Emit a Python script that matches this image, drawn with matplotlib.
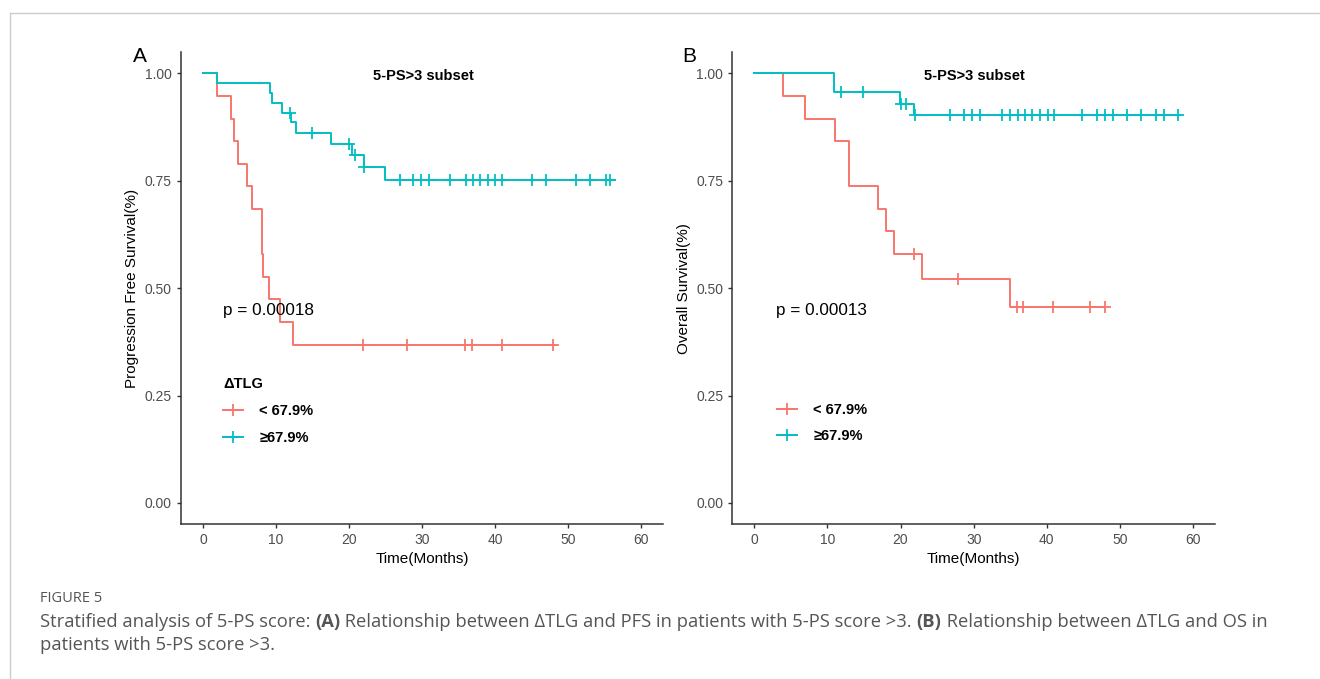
import numpy as np
import matplotlib
matplotlib.use("Agg")
import matplotlib.pyplot as plt
from matplotlib.lines import Line2D

plt.rcParams["font.family"] = ["Liberation Sans", "DejaVu Sans"]

RED = "#F8766D"
CYAN = "#00BFC4"

# Panel A: progression free survival
pfs_low_times = [2.0, 3.9, 4.3, 4.8, 6.1, 6.75, 8.1, 8.26, 9.1, 10.6, 12.3]
pfs_low_surv = [0.947, 0.895, 0.842, 0.789, 0.737, 0.684, 0.579, 0.526, 0.474, 0.421, 0.368]
pfs_low_end = 48.2
pfs_low_censor = [21.9, 27.9, 35.9, 36.8, 40.9, 47.9]

pfs_high_times = [2.0, 9.2, 9.5, 10.8, 12.05, 12.8, 17.6, 20.4, 22.0, 24.9]
pfs_high_surv = [0.977, 0.955, 0.932, 0.909, 0.886, 0.861, 0.836, 0.810, 0.782, 0.753]
pfs_high_end = 56.4
pfs_high_censor = [11.9, 15.0, 20.0, 20.8, 22.1, 27.0, 28.8, 29.9, 31.0, 33.9, 36.0, 37.0,
                   38.0, 39.0, 40.0, 41.0, 45.0, 47.0, 51.1, 53.0, 55.2, 55.8]

# Panel B: overall survival
os_low_times = [3.9, 6.9, 11.0, 12.9, 16.9, 18.0, 19.1, 23.0, 35.0]
os_low_surv = [0.947, 0.895, 0.842, 0.737, 0.684, 0.632, 0.579, 0.521, 0.456]
os_low_end = 48.0
os_low_censor = [21.9, 27.8, 35.9, 36.8, 40.9, 45.9, 47.9]

os_high_times = [10.9, 19.9, 21.9]
os_high_surv = [0.956, 0.930, 0.903]
os_high_end = 58.2
os_high_censor = [11.85, 14.9, 20.0, 20.8, 22.0, 26.8, 28.7, 29.8, 30.9, 33.9, 35.0, 36.0, 37.0,
                  38.0, 39.1, 40.1, 41.0, 44.8, 46.9, 48.0, 49.0, 50.9, 52.9, 54.9, 56.0, 57.9]

group_labels = ["< 67.9%", "\u226567.9%"]
legend_title = "\u0394TLG"
x_ticks = [0, 10, 20, 30, 40, 50, 60]
y_ticks = [0.0, 0.25, 0.5, 0.75, 1.0]


def draw_km(ax, times, surv, end, censor, color):
    t = np.concatenate([[0.0], times, [end]])
    s = np.concatenate([[1.0], surv, [surv[-1]]])
    ax.step(t, s, where="post", color=color, lw=1.4, zorder=3)
    idx = np.searchsorted(times, censor, side="right")
    cy = np.concatenate([[1.0], surv])[idx]
    ax.plot(censor, cy, ls="none", marker="+", ms=8, mew=1.3, color=color, zorder=4)


def style_axes(ax, ylabel):
    ax.set_xlim(-3, 63)
    ax.set_ylim(-0.05, 1.05)
    ax.set_xticks(x_ticks)
    ax.set_yticks(y_ticks)
    ax.set_yticklabels([f"{v:.2f}" for v in y_ticks])
    for side in ("top", "right"):
        ax.spines[side].set_visible(False)
    for side in ("left", "bottom"):
        ax.spines[side].set_color("#333333")
        ax.spines[side].set_linewidth(1.1)
    ax.tick_params(length=3, width=1, color="#333333", labelcolor="#4d4d4d", labelsize=10)
    ax.set_xlabel("Time(Months)", fontsize=11, labelpad=3)
    ax.set_ylabel(ylabel, fontsize=11, labelpad=4)
    ax.text(0.502, 0.949, "5-PS>3 subset", transform=ax.transAxes, fontsize=10.5,
            fontweight="bold", ha="center", va="center")


fig = plt.figure(figsize=(13.2, 6.79), dpi=100)
ax1 = fig.add_axes([0.1371, 0.2278, 0.3652, 0.6956])
ax2 = fig.add_axes([0.5548, 0.2278, 0.3657, 0.6956])

draw_km(ax1, pfs_low_times, pfs_low_surv, pfs_low_end, pfs_low_censor, RED)
draw_km(ax1, pfs_high_times, pfs_high_surv, pfs_high_end, pfs_high_censor, CYAN)
draw_km(ax2, os_low_times, os_low_surv, os_low_end, os_low_censor, RED)
draw_km(ax2, os_high_times, os_high_surv, os_high_end, os_high_censor, CYAN)

style_axes(ax1, "Progression Free Survival(%)")
style_axes(ax2, "Overall Survival(%)")

ax1.text(2.8, 0.447, "p = 0.00018", fontsize=12.3, va="center")
ax2.text(3.0, 0.447, "p = 0.00013", fontsize=12.3, va="center")

handles = [Line2D([], [], color=c, lw=1.4, marker="+", ms=9, mew=1.3) for c in (RED, CYAN)]
leg1 = ax1.legend(handles, group_labels, title=legend_title, loc="upper left",
                  bbox_to_anchor=(0.06, 0.34), frameon=False, handlelength=1.4,
                  handletextpad=1.1, labelspacing=0.9, prop={"weight": "bold", "size": 10.5},
                  title_fontproperties={"weight": "bold", "size": 10.5})
leg1._legend_box.align = "left"
ax2.legend(handles, group_labels, loc="upper left", bbox_to_anchor=(0.065, 0.285),
           frameon=False, handlelength=1.4, handletextpad=1.1, labelspacing=0.85,
           prop={"weight": "bold", "size": 10.5})

fig.text(140 / 1320, 1 - 56 / 679, "A", fontsize=15, ha="center", va="center")
fig.text(689 / 1320, 1 - 56 / 679, "B", fontsize=15, ha="center", va="center")

# page frame
fig.add_artist(Line2D([10 / 1320, 1.0], [1 - 13 / 679] * 2, color="#cccccc", lw=1))
fig.add_artist(Line2D([10 / 1320] * 2, [0.0, 1 - 13 / 679], color="#cccccc", lw=1))

# caption
cap_color = "#555555"
cap_font = ["Open Sans", "DejaVu Sans"]
fig.text(40 / 1320, 1 - 598 / 679, "FIGURE 5", fontsize=10.5, color=cap_color,
         family=cap_font, va="center")

fig.canvas.draw()
renderer = fig.canvas.get_renderer()


def write_runs(runs, x_px, y_px):
    x = x_px
    for txt, weight in runs:
        t = fig.text(x / 1320, 1 - y_px / 679, txt, fontsize=13.2, color=cap_color,
                     family=cap_font, fontweight=weight, va="center")
        x += t.get_window_extent(renderer).width


write_runs([
    ("Stratified analysis of 5-PS score: ", "normal"),
    ("(A)", "bold"),
    (" Relationship between \u0394TLG and PFS in patients with 5-PS score >3. ", "normal"),
    ("(B)", "bold"),
    (" Relationship between \u0394TLG and OS in", "normal"),
], 40, 622)
write_runs([("patients with 5-PS score >3.", "normal")], 40, 645)

fig.savefig("out.png", dpi=100)
